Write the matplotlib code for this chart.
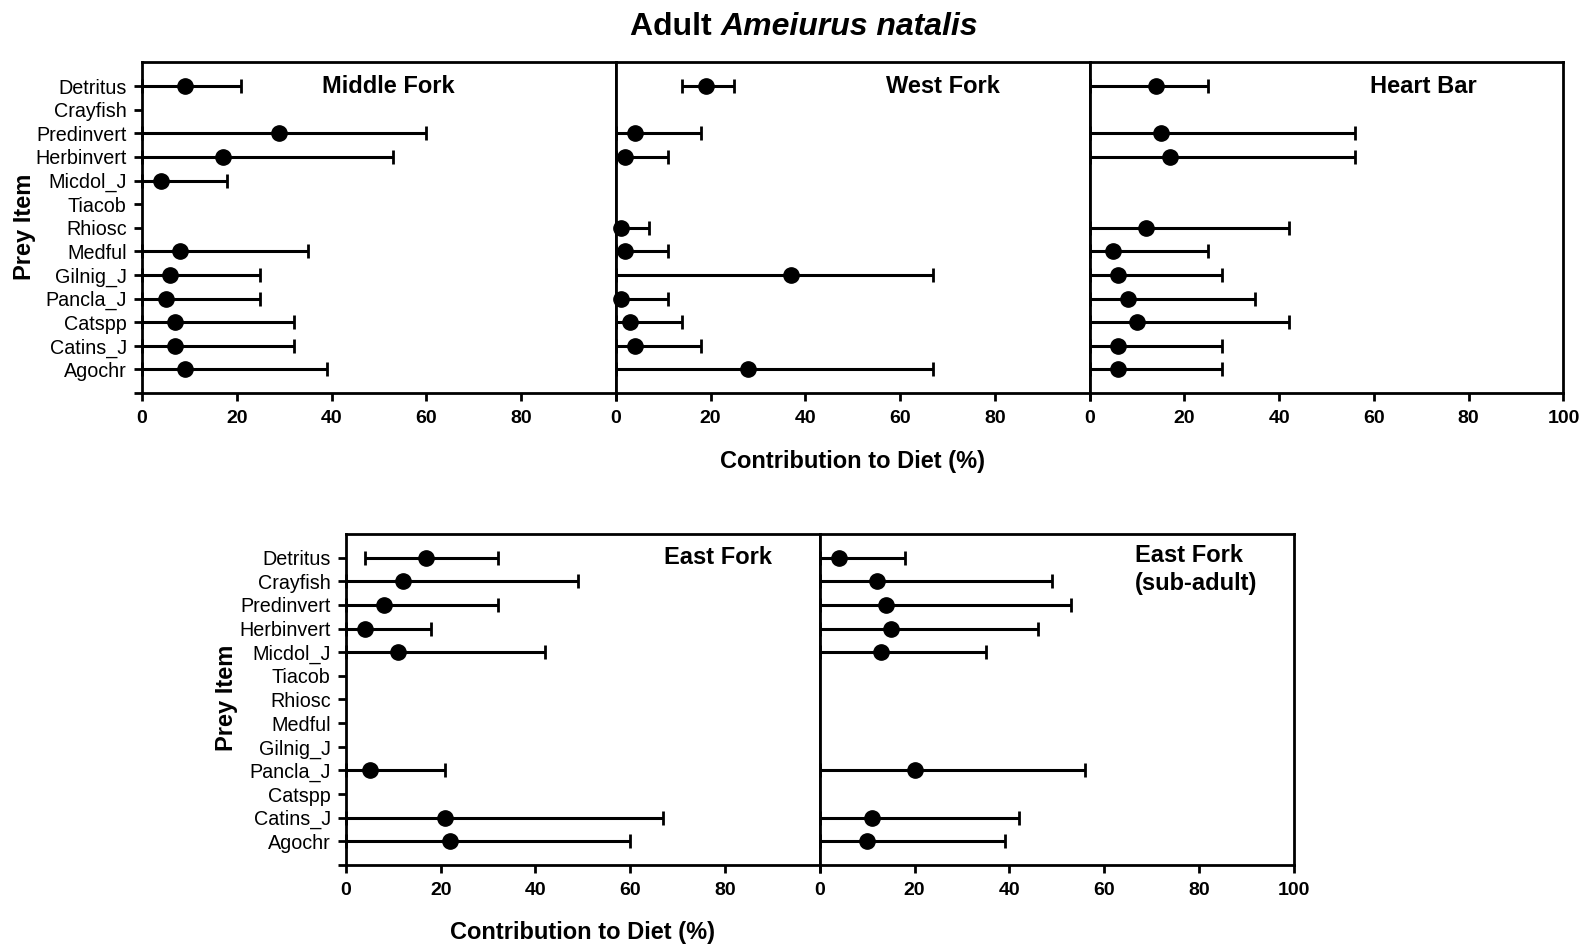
import matplotlib.pyplot as plt
import numpy as np

plt.rcParams['font.family'] = ['Liberation Sans', 'DejaVu Sans']

prey = ['Detritus', 'Crayfish', 'Predinvert', 'Herbinvert', 'Micdol_J', 'Tiacob',
        'Rhiosc', 'Medful', 'Gilnig_J', 'Pancla_J', 'Catspp', 'Catins_J', 'Agochr']
nan = np.nan

# median contribution, lower and upper bound of each prey item (%)
middle_mid = [9, nan, 29, 17, 4, nan, nan, 8, 6, 5, 7, 7, 9]
middle_lo = [0, nan, 0, 0, 0, nan, nan, 0, 0, 0, 0, 0, 0]
middle_hi = [21, nan, 60, 53, 18, nan, nan, 35, 25, 25, 32, 32, 39]

west_mid = [19, nan, 4, 2, nan, nan, 1, 2, 37, 1, 3, 4, 28]
west_lo = [14, nan, 0, 0, nan, nan, 0, 0, 0, 0, 0, 0, 0]
west_hi = [25, nan, 18, 11, nan, nan, 7, 11, 67, 11, 14, 18, 67]

heart_mid = [14, nan, 15, 17, nan, nan, 12, 5, 6, 8, 10, 6, 6]
heart_lo = [0, nan, 0, 0, nan, nan, 0, 0, 0, 0, 0, 0, 0]
heart_hi = [25, nan, 56, 56, nan, nan, 42, 25, 28, 35, 42, 28, 28]

east_mid = [17, 12, 8, 4, 11, nan, nan, nan, nan, 5, nan, 21, 22]
east_lo = [4, 0, 0, 0, 0, nan, nan, nan, nan, 0, nan, 0, 0]
east_hi = [32, 49, 32, 18, 42, nan, nan, nan, nan, 21, nan, 67, 60]

sub_mid = [4, 12, 14, 15, 13, nan, nan, nan, nan, 20, nan, 11, 10]
sub_lo = [0, 0, 0, 0, 0, nan, nan, nan, nan, 0, nan, 0, 0]
sub_hi = [18, 49, 53, 46, 35, nan, nan, nan, nan, 56, nan, 42, 39]

xticks = [0, 20, 40, 60, 80, 100]

fig = plt.figure(figsize=(15.81, 9.48), dpi=100)

ypos = np.arange(len(prey), 0, -1)


def panel(rect, mid, lo, hi, label, label_x, first, last, label_ha='center'):
    ax = fig.add_axes(rect)
    mid = np.array(mid, float)
    lo = np.array(lo, float)
    hi = np.array(hi, float)
    ok = ~np.isnan(mid)
    ax.errorbar(mid[ok], ypos[ok], xerr=[mid[ok] - lo[ok], hi[ok] - mid[ok]],
                fmt='o', color='black', ms=11, elinewidth=2.2, capsize=5,
                capthick=2, clip_on=False, zorder=3)
    ax.set_xlim(0, 100)
    ax.set_ylim(0, 14)
    ax.set_xticks(xticks)
    ax.set_xticklabels([str(t) if (t < 100 or last) else '' for t in xticks],
                       fontweight='bold', fontsize=14)
    ax.tick_params(axis='x', direction='out', length=6, width=2, pad=6)
    if first:
        ax.set_yticks(range(0, 14))
        ax.set_yticklabels([''] + prey[::-1], fontsize=14.2)
        ax.tick_params(axis='y', direction='out', length=6, width=2, pad=5)
    else:
        ax.set_yticks([])
    for s in ax.spines.values():
        s.set_linewidth(2)
    ax.text(label_x, 13, label, fontsize=17, fontweight='bold',
            ha=label_ha, va='center', linespacing=1.25)
    return ax


w = 0.2997
top_y, top_h = 0.5854, 0.3487
bot_y, bot_h = 0.0876, 0.3491

panel([0.0898, top_y, w, top_h], middle_mid, middle_lo, middle_hi, 'Middle Fork', 52, True, False)
panel([0.0898 + w, top_y, w, top_h], west_mid, west_lo, west_hi, 'West Fork', 69, False, False)
panel([0.0898 + 2 * w, top_y, w, top_h], heart_mid, heart_lo, heart_hi, 'Heart Bar', 70.5, False, True)

panel([0.2188, bot_y, w, bot_h], east_mid, east_lo, east_hi, 'East Fork', 78.5, True, False)
ax5 = panel([0.2188 + w, bot_y, w, bot_h], sub_mid, sub_lo, sub_hi,
            'East Fork\n(sub-adult)', 66.5, False, True, label_ha='left')
ax5.texts[0].set_y(12.5)

fig.text(852 / 1581, 1 - 462 / 948, 'Contribution to Diet (%)', fontsize=17,
         fontweight='bold', ha='center', va='center')
fig.text(583 / 1581, 1 - 932 / 948, 'Contribution to Diet (%)', fontsize=17,
         fontweight='bold', ha='center', va='center')
fig.text(24 / 1581, 1 - 227 / 948, 'Prey Item', fontsize=17, fontweight='bold',
         rotation=90, ha='center', va='center')
fig.text(226 / 1581, 1 - 698 / 948, 'Prey Item', fontsize=17, fontweight='bold',
         rotation=90, ha='center', va='center')

t1 = fig.text(630 / 1581, 1 - 27 / 948, 'Adult ', fontsize=23, fontweight='bold',
              ha='left', va='center')
plt.annotate('Ameiurus natalis', xy=(1, 0), xycoords=t1, fontsize=23,
             fontweight='bold', fontstyle='italic', ha='left', va='bottom')

fig.savefig('out.png', dpi=100)
